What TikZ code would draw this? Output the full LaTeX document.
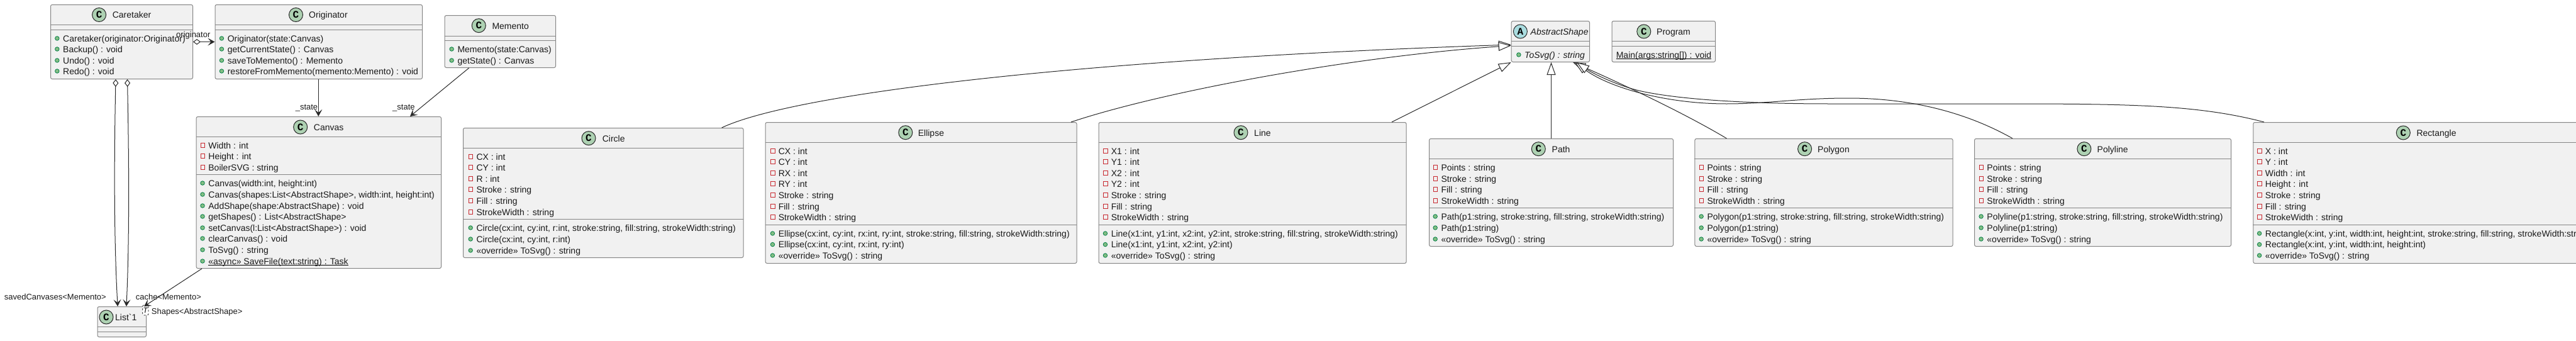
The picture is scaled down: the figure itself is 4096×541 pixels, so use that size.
\documentclass[tikz,border=0pt]{standalone}
\usepackage{fontspec}
\usepackage{tikz}
\usetikzlibrary{arrows.meta,shapes.geometric}
\newfontfamily\umlfont{Liberation Sans}
\newfontfamily\iconfont{Liberation Mono}
\definecolor{boxfill}{HTML}{F1F1F1}
\definecolor{boxline}{HTML}{858585}
\definecolor{edgeline}{HTML}{282828}
\tikzset{
  classbox/.style={draw=boxline,fill=boxfill,line width=1pt,rounded corners=2.5pt,anchor=north west,inner sep=0pt},
  boxsep/.style={draw=boxline,line width=1pt},
  member/.style={anchor=west,inner sep=0pt,text height=10.6pt,text depth=0pt,text=black!90,font={\umlfont\fontsize{14}{16}\selectfont}},
  pubmark/.style={circle,draw={rgb,255:red,3;green,128;blue,72},fill={rgb,255:red,132;green,190;blue,132},line width=.8pt,minimum size=6.5pt,inner sep=0pt},
  privmark/.style={rectangle,draw={rgb,255:red,200;green,41;blue,48},line width=.9pt,minimum size=6.5pt,inner sep=0pt},
  pub/.style={member,label={[pubmark,label distance=5.5pt]left:{}}},
  priv/.style={member,label={[privmark,label distance=5.2pt]left:{}}},
  classicon/.style={circle,draw=edgeline,fill={rgb,255:red,173;green,209;blue,178},line width=1pt,minimum size=22pt,inner sep=0pt,font={\iconfont\bfseries\fontsize{16}{16}\selectfont}},
  abstracticon/.style={classicon,fill={rgb,255:red,169;green,220;blue,223}},
  edgelabel/.style={anchor=west,inner sep=0pt,text height=9.8pt,text depth=0pt,text=black!90,font={\umlfont\fontsize{13}{15}\selectfont}},
  tparam/.style={draw=black,dashed,fill=white,line width=.7pt,rounded corners=1.5pt,minimum width=9.3pt,minimum height=16pt,inner sep=0pt,font={\umlfont\itshape\fontsize{12}{14}\selectfont}},
  ulined/.style={draw=black,line width=1pt},
  assoc/.style={draw=edgeline,line width=1pt,-{Stealth[length=11pt,width=12pt,inset=5pt]}},
  aggr/.style={draw=edgeline,line width=1pt,{Diamond[fill=white,length=12pt,width=9pt]}-{Stealth[length=11pt,width=12pt,inset=5pt]}},
  inherit/.style={draw=edgeline,line width=1pt,-{Triangle[fill=white,length=20pt,width=14pt]}}
}
\begin{document}
\begin{tikzpicture}[x=1pt,y=-1pt]
\useasboundingbox (0,0) rectangle (4096,541);
\node [classbox,minimum width=226pt,minimum height=118pt] (caretaker) at (80,7) {};
\draw [boxsep] (80,39) -- (306,39);
\draw [boxsep] (80,47) -- (306,47);
\node [classicon] (caretaker icon) at (157.6,23.5) {C};
\node [member] (caretaker title) at (178.6,23.5) {Caretaker};
\node [pub] (caretaker m1) at (100,61) {Caretaker(originator:Originator)};
\node [pub] (caretaker m2) at (100,78) {Backup() : void};
\node [pub] (caretaker m3) at (100,96) {Undo() : void};
\node [pub] (caretaker m4) at (100,113) {Redo() : void};
\node [classbox,minimum width=329.5pt,minimum height=118pt] (originator) at (341.5,7) {};
\draw [boxsep] (341.5,39) -- (671,39);
\draw [boxsep] (341.5,47) -- (671,47);
\node [classicon] (originator icon) at (470.5,23.5) {C};
\node [member] (originator title) at (491,23.5) {Originator};
\node [pub] (originator m1) at (361.6,61) {Originator(state:Canvas)};
\node [pub] (originator m2) at (361.6,78) {getCurrentState() : Canvas};
\node [pub] (originator m3) at (361.6,96) {saveToMemento() : Memento};
\node [pub] (originator m4) at (361.6,113) {restoreFromMemento(memento:Memento) : void};
\node [classbox,minimum width=176.3pt,minimum height=83pt] (memento) at (706.7,24) {};
\draw [boxsep] (706.7,57) -- (883,57);
\draw [boxsep] (706.7,64) -- (883,64);
\node [classicon] (memento icon) at (761.3,40.7) {C};
\node [member] (memento title) at (782.3,40.7) {Memento};
\node [pub] (memento m1) at (727.3,78) {Memento(state:Canvas)};
\node [pub] (memento m2) at (727.3,96) {getState() : Canvas};
\node [classbox,minimum width=389.4pt,minimum height=241pt] (canvas) at (311.6,185) {};
\draw [boxsep] (311.6,217) -- (701,217);
\draw [boxsep] (311.6,277) -- (701,277);
\node [classicon] (canvas icon) at (477.7,202) {C};
\node [member] (canvas title) at (498.7,202) {Canvas};
\node [priv] (canvas a1) at (331.2,231) {Width : int};
\node [priv] (canvas a2) at (331.2,248) {Height : int};
\node [priv] (canvas a3) at (331.2,266) {BoilerSVG : string};
\node [pub] (canvas m1) at (331.2,291) {Canvas(width:int, height:int)};
\node [pub] (canvas m2) at (331.2,309) {Canvas(shapes:List<AbstractShape>, width:int, height:int)};
\node [pub] (canvas m3) at (331.2,327) {AddShape(shape:AbstractShape) : void};
\node [pub] (canvas m4) at (331.2,344) {getShapes() : List<AbstractShape>};
\node [pub] (canvas m5) at (331.2,362) {setCanvas(l:List<AbstractShape>) : void};
\node [pub] (canvas m6) at (331.2,379) {clearCanvas() : void};
\node [pub] (canvas m7) at (331.2,397) {ToSvg() : string};
\node [pub] (canvas m8) at (331.2,415) {«async» SaveFile(text:string) : Task};
\draw [ulined] ([yshift=-1.5pt]canvas m8.base west) -- ([yshift=-1.5pt]canvas m8.base east);
\node [classbox,minimum width=445.5pt,minimum height=206pt] (circle) at (736,203) {};
\draw [boxsep] (736,235) -- (1181.5,235);
\draw [boxsep] (736,348) -- (1181.5,348);
\node [classicon] (circle icon) at (936,219.7) {C};
\node [member] (circle title) at (957.6,219.7) {Circle};
\node [priv] (circle a1) at (757.4,249) {CX : int};
\node [priv] (circle a2) at (757.4,266) {CY : int};
\node [priv] (circle a3) at (757.4,284) {R : int};
\node [priv] (circle a4) at (757.4,301) {Stroke : string};
\node [priv] (circle a5) at (757.4,319) {Fill : string};
\node [priv] (circle a6) at (757.4,337) {StrokeWidth : string};
\node [pub] (circle m1) at (757.4,362) {Circle(cx:int, cy:int, r:int, stroke:string, fill:string, strokeWidth:string)};
\node [pub] (circle m2) at (757.4,380) {Circle(cx:int, cy:int, r:int)};
\node [pub] (circle m3) at (757.4,398) {«override» ToSvg() : string};
\node [classbox,minimum width=494.9pt,minimum height=224pt] (ellipse) at (1216.6,194) {};
\draw [boxsep] (1216.6,226) -- (1711.5,226);
\draw [boxsep] (1216.6,357) -- (1711.5,357);
\node [classicon] (ellipse icon) at (1439.8,210.7) {C};
\node [member] (ellipse title) at (1459.6,210.7) {Ellipse};
\node [priv] (ellipse a1) at (1237.6,240) {CX : int};
\node [priv] (ellipse a2) at (1237.6,257) {CY : int};
\node [priv] (ellipse a3) at (1237.6,275) {RX : int};
\node [priv] (ellipse a4) at (1237.6,292) {RY : int};
\node [priv] (ellipse a5) at (1237.6,310) {Stroke : string};
\node [priv] (ellipse a6) at (1237.6,328) {Fill : string};
\node [priv] (ellipse a7) at (1237.6,345) {StrokeWidth : string};
\node [pub] (ellipse m1) at (1237.6,371) {Ellipse(cx:int, cy:int, rx:int, ry:int, stroke:string, fill:string, strokeWidth:string)};
\node [pub] (ellipse m2) at (1237.6,388.6) {Ellipse(cx:int, cy:int, rx:int, ry:int)};
\node [pub] (ellipse m3) at (1237.6,406) {«override» ToSvg() : string};
\node [classbox,minimum width=489.1pt,minimum height=224pt] (line) at (1746.5,194) {};
\draw [boxsep] (1746.5,226) -- (2235.6,226);
\draw [boxsep] (1746.5,357) -- (2235.6,357);
\node [classicon] (line icon) at (1973,210.7) {C};
\node [member] (line title) at (1994,210.7) {Line};
\node [priv] (line a1) at (1766.6,240) {X1 : int};
\node [priv] (line a2) at (1766.6,257) {Y1 : int};
\node [priv] (line a3) at (1766.6,275) {X2 : int};
\node [priv] (line a4) at (1766.6,292) {Y2 : int};
\node [priv] (line a5) at (1766.6,310) {Stroke : string};
\node [priv] (line a6) at (1766.6,328) {Fill : string};
\node [priv] (line a7) at (1766.6,345) {StrokeWidth : string};
\node [pub] (line m1) at (1766.6,371) {Line(x1:int, y1:int, x2:int, y2:int, stroke:string, fill:string, strokeWidth:string)};
\node [pub] (line m2) at (1766.6,388.6) {Line(x1:int, y1:int, x2:int, y2:int)};
\node [pub] (line m3) at (1766.6,406) {«override» ToSvg() : string};
\node [classbox,minimum width=388pt,minimum height=171pt] (path) at (2272,220) {};
\draw [boxsep] (2272,252) -- (2660,252);
\draw [boxsep] (2272,330) -- (2660,330);
\node [classicon] (path icon) at (2446.3,236.7) {C};
\node [member] (path title) at (2467.5,236.7) {Path};
\node [priv] (path a1) at (2291.3,266) {Points : string};
\node [priv] (path a2) at (2291.3,284) {Stroke : string};
\node [priv] (path a3) at (2291.3,301) {Fill : string};
\node [priv] (path a4) at (2291.3,319) {StrokeWidth : string};
\node [pub] (path m1) at (2291.3,344) {Path(p1:string, stroke:string, fill:string, strokeWidth:string)};
\node [pub] (path m2) at (2291.3,362) {Path(p1:string)};
\node [pub] (path m3) at (2291.3,380) {«override» ToSvg() : string};
\node [classbox,minimum width=410.2pt,minimum height=171pt] (polygon) at (2694.4,220) {};
\draw [boxsep] (2694.4,252) -- (3104.6,252);
\draw [boxsep] (2694.4,330) -- (3104.6,330);
\node [classicon] (polygon icon) at (2869.6,236.7) {C};
\node [member] (polygon title) at (2890,236.7) {Polygon};
\node [priv] (polygon a1) at (2714.3,266) {Points : string};
\node [priv] (polygon a2) at (2714.3,284) {Stroke : string};
\node [priv] (polygon a3) at (2714.3,301) {Fill : string};
\node [priv] (polygon a4) at (2714.3,319) {StrokeWidth : string};
\node [pub] (polygon m1) at (2714.3,344) {Polygon(p1:string, stroke:string, fill:string, strokeWidth:string)};
\node [pub] (polygon m2) at (2714.3,362) {Polygon(p1:string)};
\node [pub] (polygon m3) at (2714.3,380) {«override» ToSvg() : string};
\node [classbox,minimum width=408pt,minimum height=171pt] (polyline) at (3139,220) {};
\draw [boxsep] (3139,252) -- (3547,252);
\draw [boxsep] (3139,330) -- (3547,330);
\node [classicon] (polyline icon) at (3313.9,236.7) {C};
\node [member] (polyline title) at (3334.5,236.7) {Polyline};
\node [priv] (polyline a1) at (3159.2,266) {Points : string};
\node [priv] (polyline a2) at (3159.2,284) {Stroke : string};
\node [priv] (polyline a3) at (3159.2,301) {Fill : string};
\node [priv] (polyline a4) at (3159.2,319) {StrokeWidth : string};
\node [pub] (polyline m1) at (3159.2,344) {Polyline(p1:string, stroke:string, fill:string, strokeWidth:string)};
\node [pub] (polyline m2) at (3159.2,362) {Polyline(p1:string)};
\node [pub] (polyline m3) at (3159.2,380) {«override» ToSvg() : string};
\node [classbox,minimum width=550.2pt,minimum height=224pt] (rectangle) at (3582.3,194) {};
\draw [boxsep] (3582.3,226) -- (4132.5,226);
\draw [boxsep] (3582.3,357) -- (4132.5,357);
\node [classicon] (rectangle icon) at (3821.3,211) {C};
\node [member] (rectangle title) at (3842.3,211) {Rectangle};
\node [priv] (rectangle a1) at (3601.7,240) {X : int};
\node [priv] (rectangle a2) at (3601.7,257) {Y : int};
\node [priv] (rectangle a3) at (3601.7,275) {Width : int};
\node [priv] (rectangle a4) at (3601.7,292) {Height : int};
\node [priv] (rectangle a5) at (3601.7,310) {Stroke : string};
\node [priv] (rectangle a6) at (3601.7,328) {Fill : string};
\node [priv] (rectangle a7) at (3601.7,345) {StrokeWidth : string};
\node [pub] (rectangle m1) at (3601.7,371) {Rectangle(x:int, y:int, width:int, height:int, stroke:string, fill:string, strokeWidth:string)};
\node [pub] (rectangle m2) at (3601.7,388.6) {Rectangle(x:int, y:int, width:int, height:int)};
\node [pub] (rectangle m3) at (3601.7,406) {«override» ToSvg() : string};
\node [classbox,minimum width=124.3pt,minimum height=65pt] (abstract) at (2402.7,33) {};
\draw [boxsep] (2402.7,65) -- (2527,65);
\draw [boxsep] (2402.7,73) -- (2527,73);
\node [abstracticon] (abstract icon) at (2417.4,50) {A};
\node [member] (abstract title) at (2433.5,50) {\itshape AbstractShape};
\node [pub] (abstract m1) at (2424,87) {\itshape ToSvg() : string};
\node [classbox,minimum width=164.5pt,minimum height=65pt] (program) at (2562.5,33) {};
\draw [boxsep] (2562.5,65) -- (2727,65);
\draw [boxsep] (2562.5,73) -- (2727,73);
\node [classicon] (program icon) at (2613.8,50) {C};
\node [member] (program title) at (2634,50) {Program};
\node [member] (program m1) at (2569.6,87) {Main(args:string[]) : void};
\draw [ulined] ([yshift=-1.5pt]program m1.base west) -- ([yshift=-1.5pt]program m1.base east);
\node [classbox,minimum width=77.5pt,minimum height=48pt] (list) at (154.5,487) {};
\draw [boxsep] (154.5,519) -- (232,519);
\draw [boxsep] (154.5,527) -- (232,527);
\node [classicon] (list icon) at (169,504) {C};
\node [member] (list title) at (183,504) {List`1};
\node [tparam] (list param) at (231.4,493) {T};
\draw [aggr] (caretaker) -- (originator);
\node [edgelabel] (originator label) at (280,55) {originator};
\draw [assoc] ([xshift=164.8pt]originator.south west) -- ([xshift=194.7pt]canvas.north west);
\node [edgelabel] (state label a) at (469.6,170) {\_state};
\draw [assoc] ([xshift=39pt]memento.south west) -- ([xshift=-50pt]canvas.north east);
\node [edgelabel] (state label b) at (624,170) {\_state};
\draw [aggr] ([xshift=-9.5pt]caretaker.south) .. controls (181.5,250) and (181,380) .. ([xshift=-6.6pt]list.north);
\draw [aggr] ([xshift=9pt]caretaker.south) .. controls (205,250) and (206,380) .. ([xshift=7.2pt]list.north);
\node [edgelabel] (saved label) at (6.7,471.7) {savedCanvases<Memento>};
\node [edgelabel] (cache label) at (215.6,471.7) {cache<Memento>};
\draw [assoc] ([xshift=9.4pt]canvas.south west) -- ([xshift=-4pt]list.north east);
\node [edgelabel] (shapes label) at (240.7,494.7) {Shapes<AbstractShape>};
\draw [inherit] ([xshift=-34.9pt]circle.north east) .. controls (1260,150) and (1700,95) .. ([yshift=-5pt]abstract.west);
\draw [inherit] ([xshift=-9.5pt]ellipse.north east) .. controls (1850,145) and (2150,90) .. ([yshift=-6.5pt]abstract.west);
\draw [inherit] ([xshift=-23.6pt]line.north east) -- (abstract.south west);
\draw [inherit] (path.north) -- (path.north |- abstract.south);
\draw [inherit] ([xshift=51pt]polygon.north west) .. controls (2670,175) and (2560,125) .. ([xshift=-27pt]abstract.south east);
\draw [inherit] ([xshift=61pt]polyline.north west) .. controls (3120,175) and (3030,156) .. (2939,156) .. controls (2860,156) and (2810,165) .. (2745,165) .. controls (2650,165) and (2560,140) .. ([xshift=-24pt]abstract.south east);
\draw [inherit] ([xshift=17.7pt]rectangle.north west) .. controls (3500,168) and (3400,165) .. (3200,165) -- (2910,165) .. controls (2800,165) and (2680,160) .. (2610,145) .. controls (2570,136) and (2530,115) .. ([xshift=-21pt]abstract.south east);
\end{tikzpicture}
\end{document}
